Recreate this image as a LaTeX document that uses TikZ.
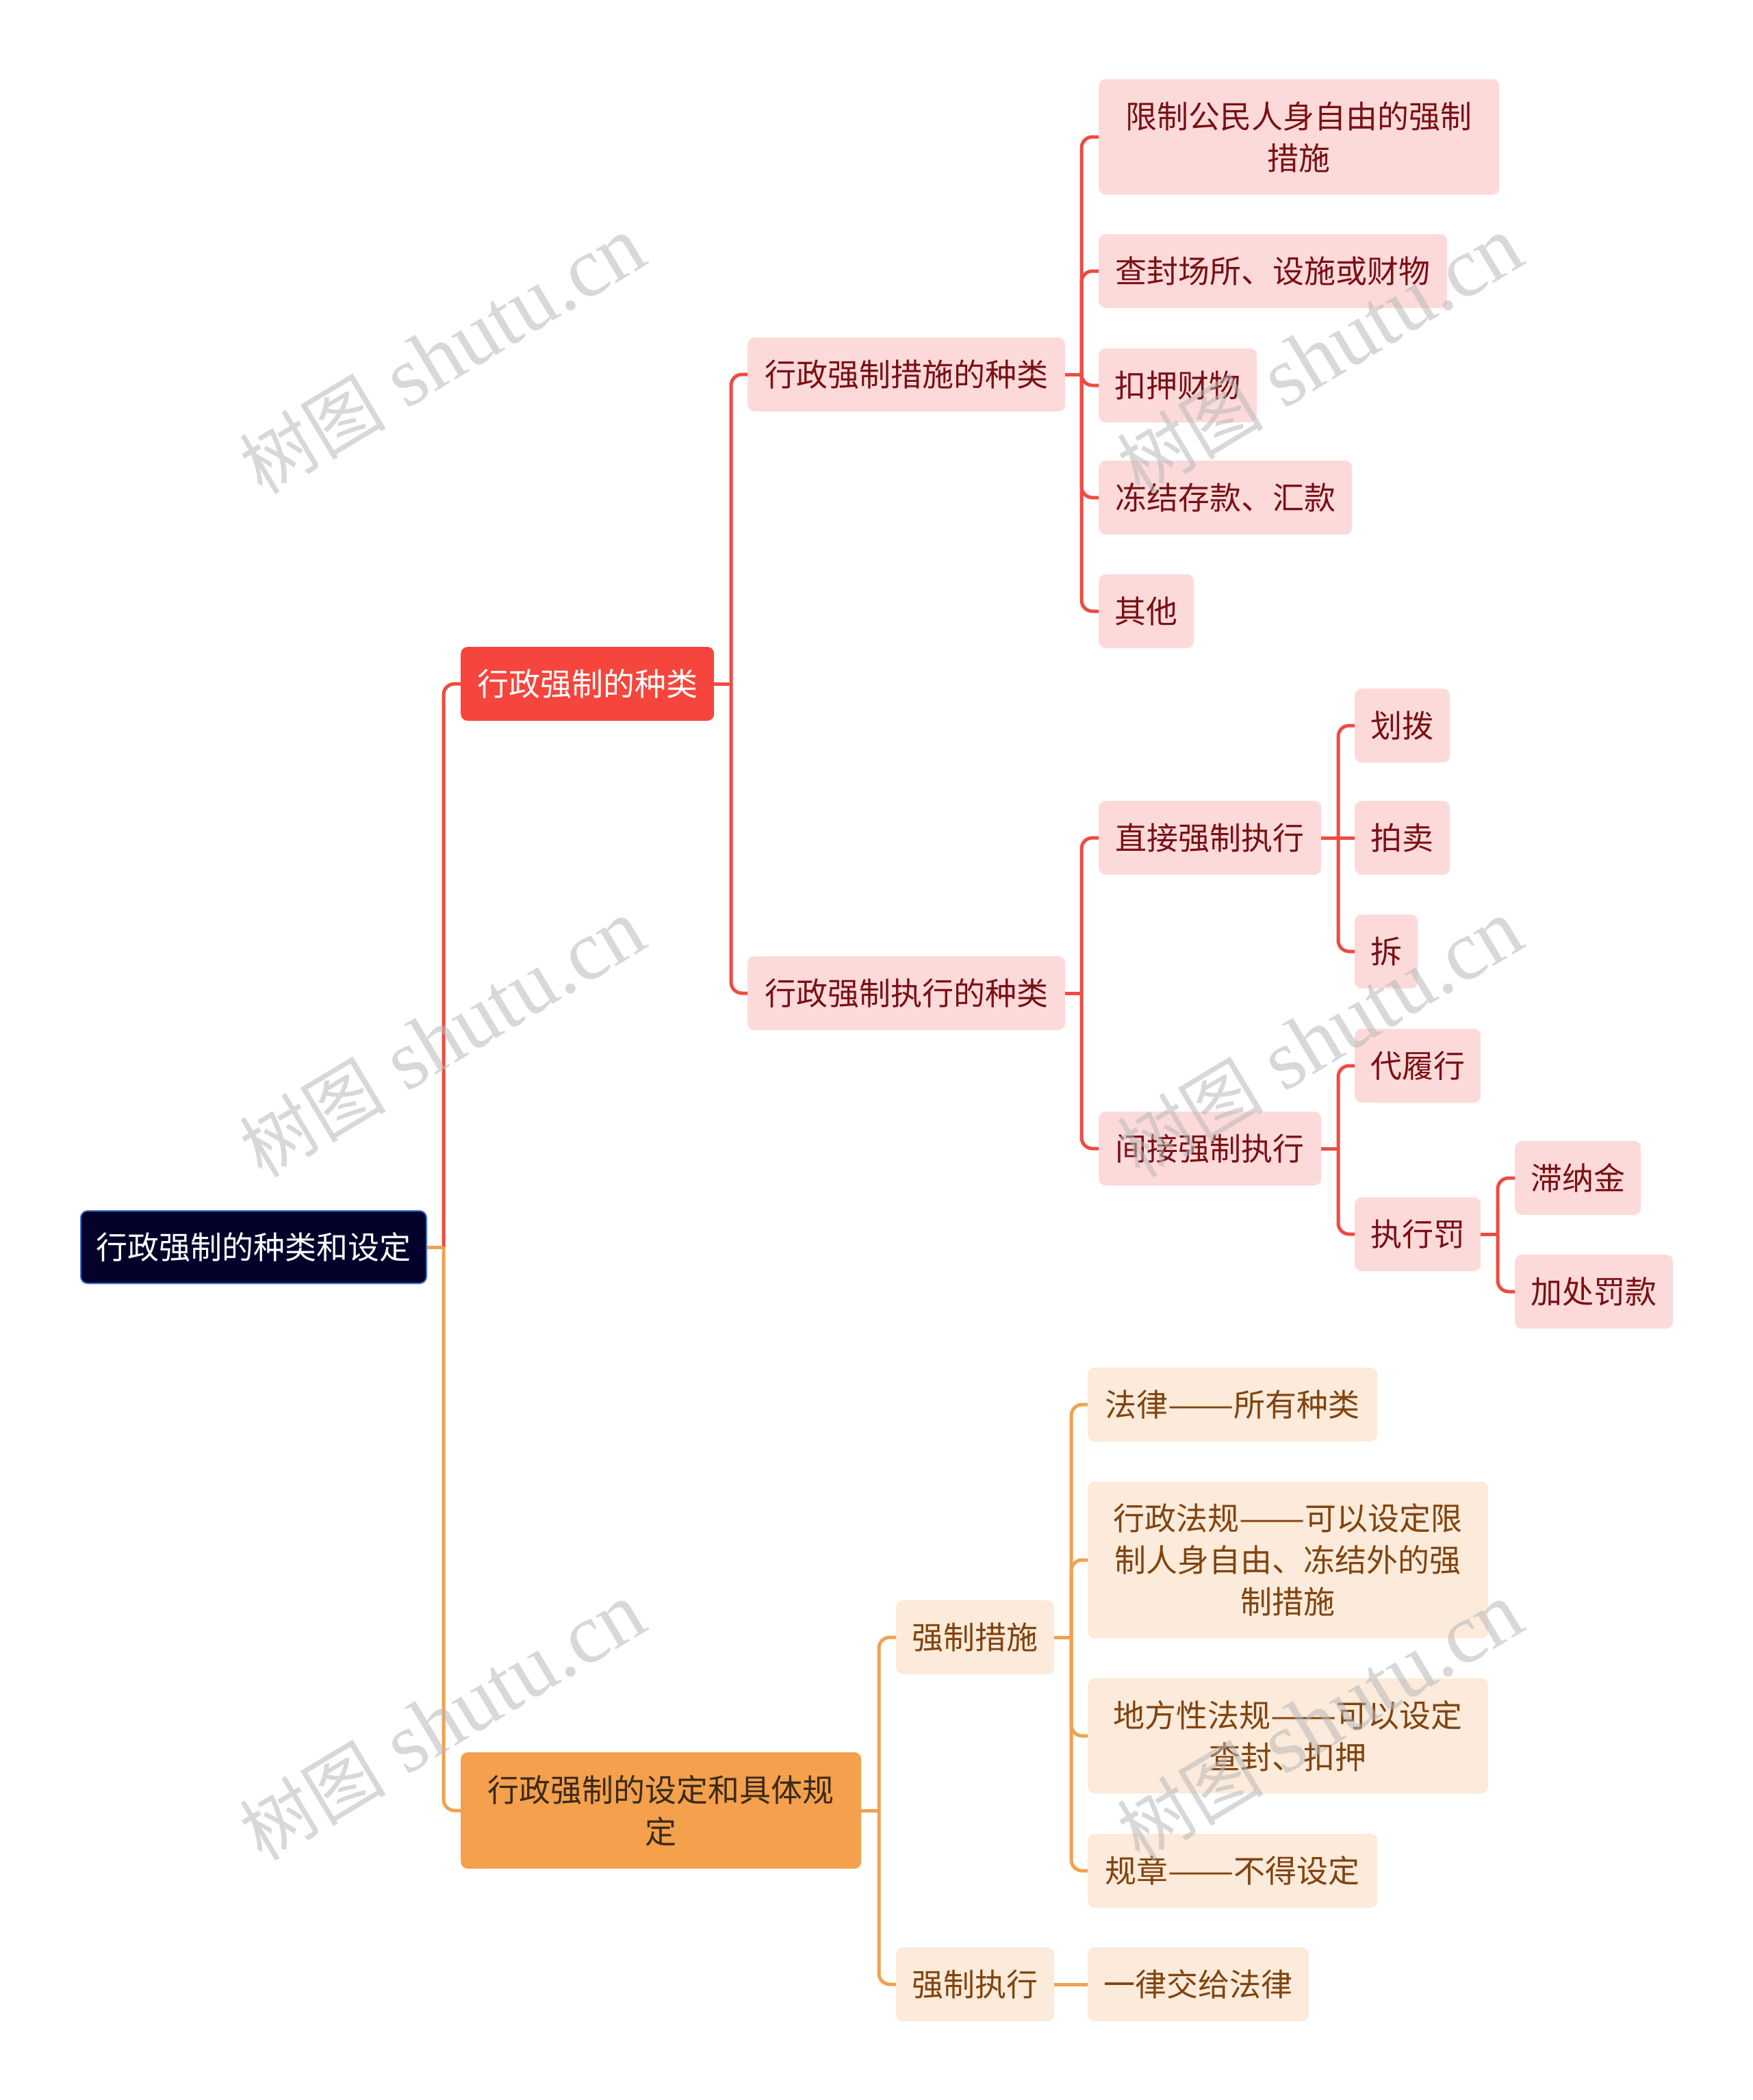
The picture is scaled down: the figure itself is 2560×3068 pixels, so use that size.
\documentclass[tikz,border=0pt]{standalone}
\usepackage{graphicx}
\usepackage{fontspec}
\newfontfamily\cjk{Noto Sans CJK SC}
\newfontfamily\wmlat{Liberation Serif}
\definecolor{rootfill}{HTML}{02022A}
\definecolor{rootline}{HTML}{3F6FCC}
\definecolor{redfill}{HTML}{F5453C}
\definecolor{orgfill}{HTML}{F4A04C}
\definecolor{pinkfill}{HTML}{FDDADA}
\definecolor{peachfill}{HTML}{FCEADA}
\definecolor{redtext}{HTML}{7A1014}
\definecolor{browntext}{HTML}{80440F}
\definecolor{darktext}{HTML}{3A2A1A}
\definecolor{redline}{HTML}{EE4B40}
\definecolor{orgline}{HTML}{F0A24E}
\definecolor{wmgray}{HTML}{B8B8B8}
\newcommand\fwdash{\scalebox{1.25}[1]{——}}
\tikzset{
  box/.style={rounded corners=10pt, inner sep=0pt, anchor=west, align=center,
    font=\cjk\fontsize{46}{61}\selectfont, minimum height=108pt},
  rootbox/.style={box, fill=rootfill, draw=rootline, line width=2pt, text=white},
  redbox/.style={box, fill=redfill, text=white},
  orgbox/.style={box, fill=orgfill, text=darktext},
  pinkbox/.style={box, fill=pinkfill, text=redtext},
  peachbox/.style={box, fill=peachfill, text=browntext},
  redln/.style={draw=redline, line width=5pt},
  orgln/.style={draw=orgline, line width=5pt},
  wm/.style={text=wmgray, opacity=0.55, rotate=31, inner sep=0pt}
}
\newcommand\tedge[4]{%
  \draw[#1] (#2.east) -- (#2.east -| #3);
  \draw[#1, rounded corners=16pt] (#2.east -| #3) |- (#4.west);
}
\begin{document}
\begin{tikzpicture}[x=1pt, y=-1pt]
\useasboundingbox (0,0) rectangle (2560,3068);
\fill[white] (0,0) rectangle (2560,3068);

% trunk coordinates
\coordinate (t0) at (648,0);
\coordinate (t1) at (1068,0);
\coordinate (t2) at (1580,0);
\coordinate (t3) at (1955,0);
\coordinate (t4) at (2188,0);
\coordinate (t5) at (1284,0);
\coordinate (t6) at (1565,0);

% nodes
\node[rootbox, minimum width=505pt, minimum height=106pt] (root) at (117,1822) {行政强制的种类和设定};
\node[redbox, minimum width=370pt] (k1) at (673,999) {行政强制的种类};
\node[orgbox, minimum width=585pt, minimum height=170pt] (k2) at (673,2645) {行政强制的设定和具体规\\定};

\node[pinkbox, minimum width=464pt] (a1) at (1092,547) {行政强制措施的种类};
\node[pinkbox, minimum width=464pt] (a2) at (1092,1451) {行政强制执行的种类};

\node[pinkbox, minimum width=585pt, minimum height=169pt] (b1) at (1605,200) {限制公民人身自由的强制\\措施};
\node[pinkbox, minimum width=509pt] (b2) at (1605,396) {查封场所、设施或财物};
\node[pinkbox, minimum width=231pt] (b3) at (1605,563) {扣押财物};
\node[pinkbox, minimum width=370pt] (b4) at (1605,727) {冻结存款、汇款};
\node[pinkbox, minimum width=139pt] (b5) at (1605,893) {其他};

\node[pinkbox, minimum width=325pt] (c1) at (1605,1224) {直接强制执行};
\node[pinkbox, minimum width=325pt] (c2) at (1605,1678) {间接强制执行};

\node[pinkbox, minimum width=139pt] (d1) at (1979,1060) {划拨};
\node[pinkbox, minimum width=139pt] (d2) at (1979,1224) {拍卖};
\node[pinkbox, minimum width=92pt] (d3) at (1979,1390) {拆};
\node[pinkbox, minimum width=184pt] (d4) at (1979,1557) {代履行};
\node[pinkbox, minimum width=184pt] (d5) at (1979,1803) {执行罚};

\node[pinkbox, minimum width=184pt] (e1) at (2213,1721) {滞纳金};
\node[pinkbox, minimum width=231pt] (e2) at (2213,1887) {加处罚款};

\node[peachbox, minimum width=231pt] (o1) at (1309,2392) {强制措施};
\node[peachbox, minimum width=231pt] (o2) at (1309,2899) {强制执行};

\node[peachbox, minimum width=423pt] (p1) at (1589,2052) {法律\fwdash 所有种类};
\node[peachbox, minimum width=585pt, minimum height=229pt] (p2) at (1589,2279) {行政法规\fwdash 可以设定限\\制人身自由、冻结外的强\\制措施};
\node[peachbox, minimum width=585pt, minimum height=168pt] (p3) at (1589,2536) {地方性法规\fwdash 可以设定\\查封、扣押};
\node[peachbox, minimum width=423pt] (p4) at (1589,2733) {规章\fwdash 不得设定};
\node[peachbox, minimum width=323pt] (p5) at (1589,2899) {一律交给法律};

% connectors
\tedge{redln}{root}{t0}{k1}
\tedge{orgln}{root}{t0}{k2}

\tedge{redln}{k1}{t1}{a1}
\tedge{redln}{k1}{t1}{a2}

\tedge{redln}{a1}{t2}{b1}
\tedge{redln}{a1}{t2}{b2}
\tedge{redln}{a1}{t2}{b3}
\tedge{redln}{a1}{t2}{b4}
\tedge{redln}{a1}{t2}{b5}

\tedge{redln}{a2}{t2}{c1}
\tedge{redln}{a2}{t2}{c2}

\tedge{redln}{c1}{t3}{d1}
\draw[redln] (c1.east) -- (d2.west);
\tedge{redln}{c1}{t3}{d3}

\tedge{redln}{c2}{t3}{d4}
\tedge{redln}{c2}{t3}{d5}

\tedge{redln}{d5}{t4}{e1}
\tedge{redln}{d5}{t4}{e2}

\tedge{orgln}{k2}{t5}{o1}
\tedge{orgln}{k2}{t5}{o2}

\tedge{orgln}{o1}{t6}{p1}
\tedge{orgln}{o1}{t6}{p2}
\tedge{orgln}{o1}{t6}{p3}
\tedge{orgln}{o1}{t6}{p4}
\draw[orgln] (o2.east) -- (p5.west);

% watermarks
\foreach \n/\x/\y in {w1/646/519, w2/646/1517, w3/646/2515, w4/1928/519, w5/1928/1517, w6/1928/2515}{
  \node[wm] (\n) at (\x,\y) {{\cjk\fontsize{107}{107}\selectfont 树图}{\wmlat\fontsize{124}{124}\selectfont\ shutu.cn}};
}
\end{tikzpicture}
\end{document}
